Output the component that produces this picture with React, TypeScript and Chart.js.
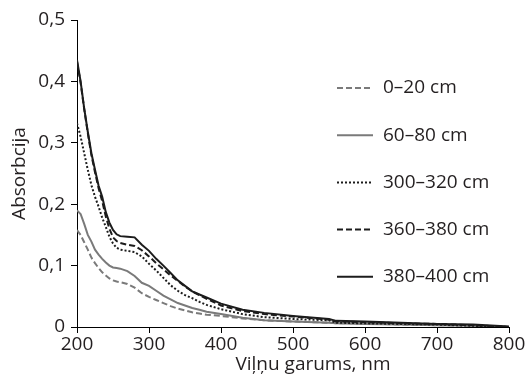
import React, { useEffect, useRef } from 'react';
import { Chart, registerables } from 'chart.js';

Chart.register(...registerables);

// ---- data ----
const wavelengths = [200, 205, 210, 215, 220, 225, 230, 235, 240, 245, 250, 255, 260, 270, 280, 290, 300, 310, 320, 330, 340, 350, 360, 370, 380, 400, 430, 460, 500, 550, 560, 600, 650, 700, 750, 800];

const depth0_20 = [0.158, 0.150, 0.138, 0.126, 0.113, 0.104, 0.096, 0.089, 0.084, 0.079, 0.076, 0.074, 0.073, 0.070, 0.064, 0.055, 0.049, 0.044, 0.039, 0.034, 0.030, 0.027, 0.024, 0.022, 0.020, 0.018, 0.014, 0.011, 0.009, 0.007, 0.006, 0.006, 0.004, 0.003, 0.002, 0.000];
const depth60_80 = [0.190, 0.184, 0.168, 0.150, 0.139, 0.126, 0.118, 0.111, 0.105, 0.100, 0.097, 0.096, 0.095, 0.091, 0.083, 0.072, 0.067, 0.059, 0.051, 0.045, 0.039, 0.035, 0.031, 0.028, 0.025, 0.021, 0.015, 0.011, 0.009, 0.007, 0.006, 0.005, 0.004, 0.003, 0.002, 0.000];
const depth300_320 = [0.332, 0.310, 0.283, 0.256, 0.231, 0.212, 0.196, 0.178, 0.163, 0.147, 0.136, 0.129, 0.126, 0.124, 0.122, 0.115, 0.103, 0.092, 0.080, 0.068, 0.059, 0.052, 0.047, 0.041, 0.036, 0.029, 0.021, 0.016, 0.013, 0.011, 0.007, 0.006, 0.005, 0.004, 0.002, 0.000];
const depth360_380 = [0.432, 0.398, 0.355, 0.316, 0.280, 0.252, 0.226, 0.205, 0.180, 0.160, 0.146, 0.140, 0.137, 0.134, 0.132, 0.125, 0.115, 0.104, 0.094, 0.084, 0.075, 0.066, 0.058, 0.052, 0.046, 0.035, 0.026, 0.021, 0.017, 0.012, 0.009, 0.008, 0.006, 0.005, 0.003, 0.000];
const depth380_400 = [0.435, 0.400, 0.356, 0.318, 0.283, 0.256, 0.230, 0.212, 0.187, 0.170, 0.158, 0.151, 0.148, 0.147, 0.146, 0.134, 0.124, 0.111, 0.100, 0.088, 0.076, 0.067, 0.058, 0.053, 0.048, 0.038, 0.028, 0.023, 0.018, 0.013, 0.010, 0.009, 0.007, 0.005, 0.004, 0.001];

const seriesLabels = ['0–20 cm', '60–80 cm', '300–320 cm', '360–380 cm', '380–400 cm'];
const xTickValues = [200, 300, 400, 500, 600, 700, 800];
const yTickLabels = ['0', '0,1', '0,2', '0,3', '0,4', '0,5'];
const xTitle = 'Viļņu garums, nm';
const yTitle = 'Absorbcija';

const FONT = "'Open Sans', 'DejaVu Sans', sans-serif";
const TEXT = '#231f20';
const GRAY = '#7a7a7a';
const BLACK = '#1c1c1c';

const styles = [
  { color: GRAY, dash: [6, 3], width: 2 },
  { color: GRAY, dash: [], width: 2 },
  { color: BLACK, dash: [2, 2], width: 2 },
  { color: BLACK, dash: [6, 3], width: 2 },
  { color: BLACK, dash: [], width: 2 },
];

const legendPlugin = {
  id: 'customLegend',
  afterDraw(chart: any) {
    const ctx = chart.ctx;
    const ds = chart.data.datasets;
    ctx.save();
    ctx.font = `19px ${FONT}`;
    ctx.textBaseline = 'middle';
    ctx.fillStyle = TEXT;
    const x0 = 337;
    const x1 = 373;
    const startY = 88;
    const step = 47.2;
    ds.forEach((d: any, i: number) => {
      const y = startY + i * step;
      ctx.beginPath();
      ctx.strokeStyle = d.borderColor;
      ctx.lineWidth = d.borderWidth;
      ctx.setLineDash(d.borderDash || []);
      ctx.moveTo(x0, y);
      ctx.lineTo(x1, y);
      ctx.stroke();
      ctx.setLineDash([]);
      ctx.fillText(d.label, 383, y);
    });
    // x-axis title
    ctx.font = `19px ${FONT}`;
    ctx.textAlign = 'center';
    ctx.textBaseline = 'middle';
    ctx.fillText(xTitle, 313, 365);
    ctx.restore();
  },
};

export default function App() {
  const ref = useRef<HTMLCanvasElement | null>(null);
  useEffect(() => {
    let chart: Chart | null = null;
    let cancelled = false;
    const make = () => {
      if (cancelled || !ref.current) return;
      const all = [depth0_20, depth60_80, depth300_320, depth360_380, depth380_400];
      chart = new Chart(ref.current, {
        type: 'line',
        data: {
          datasets: all.map((arr, i) => ({
            label: seriesLabels[i],
            data: arr.map((v, j) => ({ x: wavelengths[j], y: v })),
            borderColor: styles[i].color,
            borderWidth: styles[i].width,
            borderDash: styles[i].dash,
            pointRadius: 0,
            tension: 0,
            fill: false,
            order: 4 - i,
          })),
        },
        options: {
          animation: false,
          responsive: false,
          devicePixelRatio: 1,
          layout: { padding: { left: 0, right: 20, top: 20, bottom: 0 } },
          plugins: { legend: { display: false }, tooltip: { enabled: false } },
          scales: {
            x: {
              type: 'linear',
              min: 200,
              max: 800,
              afterFit: (s: any) => { s.height = 52; },
              afterBuildTicks: (s: any) => { s.ticks = xTickValues.map((v) => ({ value: v })); },
              ticks: { color: TEXT, font: { family: FONT, size: 19 }, padding: 0, maxRotation: 0 },
              grid: { drawOnChartArea: false, drawTicks: true, tickLength: 6, color: '#000', lineWidth: 1 },
              border: { display: true, color: '#000', width: 1 },
            },
            y: {
              type: 'linear',
              min: 0,
              max: 0.5,
              afterFit: (s: any) => { s.width = 77; },
              afterBuildTicks: (s: any) => { s.ticks = yTickLabels.map((_, i) => ({ value: i / 10 })); },
              ticks: {
                color: TEXT,
                font: { family: FONT, size: 19 },
                padding: 6,
                callback: (_v: any, i: number) => yTickLabels[i],
              },
              grid: { drawOnChartArea: false, drawTicks: true, tickLength: 6, color: '#000', lineWidth: 1 },
              border: { display: true, color: '#000', width: 1 },
              title: { display: true, text: yTitle, color: TEXT, font: { family: FONT, size: 19 }, padding: { top: 8, bottom: 0 } },
            },
          },
        },
        plugins: [legendPlugin],
      } as any);
    };
    const fonts: any = (document as any).fonts;
    if (fonts && fonts.load) {
      Promise.all([fonts.load(`19px 'Open Sans'`)]).then(make, make);
    } else make();
    return () => {
      cancelled = true;
      if (chart) chart.destroy();
    };
  }, []);
  return (
    <div style={{ position: 'absolute', left: 0, top: 0, width: 529, height: 379, background: '#fff' }}>
      <canvas ref={ref} width={529} height={379} />
    </div>
  );
}
